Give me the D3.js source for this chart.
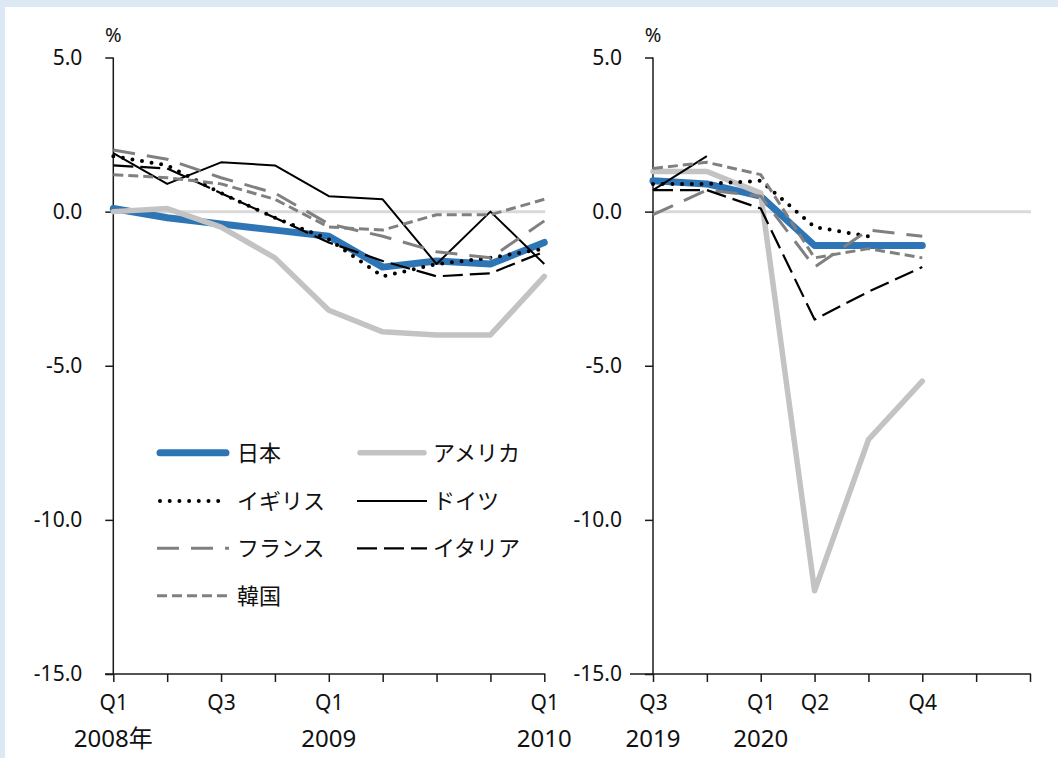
<!DOCTYPE html>
<html><head><meta charset="utf-8">
<script src="https://cdn.jsdelivr.net/npm/d3@7"></script>
<style>
html,body{margin:0;padding:0;background:#dde8f5;}
svg{display:block;}
</style></head>
<body>
<svg id="chart" width="1058" height="758"></svg>
<script>
// ---- data ----
const leftQuarters = ["2008Q1","2008Q2","2008Q3","2008Q4","2009Q1","2009Q2","2009Q3","2009Q4","2010Q1"];
const leftTickLabels = ["Q1","","Q3","","Q1","","","","Q1"];
const leftYearLabels = ["2008年","","","","2009","","","","2010"];
const rightQuarters = ["2019Q3","2019Q4","2020Q1","2020Q2","2020Q3","2020Q4","2021Q1","2021Q2"];
const rightTickLabels = ["Q3","","Q1","Q2","","Q4","",""];
const rightYearLabels = ["2019","","2020","","","","",""];
const yTicks = [5, 0, -5, -10, -15];

const japanL   = [0.1, -0.2, -0.4, -0.6, -0.8, -1.8, -1.6, -1.7, -1.0];
const usaL     = [0.0, 0.1, -0.5, -1.5, -3.2, -3.9, -4.0, -4.0, -2.1];
const ukL      = [1.8, 1.5, 0.6, -0.2, -0.9, -2.1, -1.7, -1.5, -1.2];
const germanyL = [1.9, 0.9, 1.6, 1.5, 0.5, 0.4, -1.7, 0.0, -1.7];
const franceL  = [2.0, 1.7, 1.1, 0.6, -0.4, -0.8, -1.3, -1.5, -0.3];
const italyL   = [1.5, 1.4, 0.6, -0.2, -1.0, -1.6, -2.1, -2.0, -1.3];
const koreaL   = [1.2, 1.1, 0.9, 0.4, -0.5, -0.6, -0.1, -0.1, 0.4];

const japanR   = [1.0, 0.9, 0.5, -1.1, -1.1, -1.1];
const usaR     = [1.3, 1.3, 0.6, -12.3, -7.4, -5.5];
const ukR      = [0.9, 0.9, 1.0, -0.5, -0.8];
const germanyR = [0.7, 1.8];
const franceR  = [-0.1, 0.7, 0.5, -1.8, -0.6, -0.8];
const italyR   = [0.7, 0.7, 0.1, -3.5, -2.6, -1.8];
const koreaR   = [1.4, 1.6, 1.2, -1.5, -1.2, -1.5];

const seriesNames = ["日本","アメリカ","イギリス","ドイツ","フランス","イタリア","韓国"];
const leftData  = [japanL, usaL, ukL, germanyL, franceL, italyL, koreaL];
const rightData = [japanR, usaR, ukR, germanyR, franceR, italyR, koreaR];

// ---- styles ----
const styles = [
  {color:"#2e75b6", width:7,   dash:null,   cap:"round"},
  {color:"#c3c3c3", width:5.5, dash:null,   cap:"round"},
  {color:"#000000", width:4,   dash:"0,9.7",cap:"round"},
  {color:"#000000", width:2,   dash:null,   cap:"butt"},
  {color:"#808080", width:3,   dash:"22,12",cap:"butt"},
  {color:"#000000", width:2.2, dash:"20,7", cap:"butt"},
  {color:"#808080", width:3,   dash:"10,5", cap:"butt"}
];

const svg = d3.select("#chart");
svg.append("rect").attr("x",5).attr("y",7).attr("width",1053).attr("height",751).attr("fill","#ffffff");

const y = d3.scaleLinear().domain([-15,5]).range([674,57.5]);
const numFont = "'Noto Sans','Noto Sans CJK JP',sans-serif";
const axisColor = "#1a1a1a";

function panel(cats, tickLabels, yearLabels, data, x0, x1, xLineStart){
  const x = d3.scalePoint().domain(cats).range([x0, x1]);
  const g = svg.append("g");
  // zero line
  g.append("line").attr("x1",x0).attr("x2",x1+1).attr("y1",y(0)).attr("y2",y(0))
    .attr("stroke","#d9d9d9").attr("stroke-width",3);
  // y axis
  const yAxis = d3.axisLeft(y).tickValues(yTicks).tickSize(8).tickFormat(d=>d.toFixed(1));
  const ya = g.append("g").attr("transform",`translate(${x0},0)`).call(yAxis);
  ya.select(".domain").attr("stroke",axisColor).attr("stroke-width",1.5).attr("d",`M0,${y(5)}V${y(-15)}`);
  ya.selectAll(".tick line").attr("stroke",axisColor).attr("stroke-width",1.5);
  ya.selectAll(".tick text").attr("x",-31).attr("font-size",21).attr("font-family",numFont).attr("fill","#111");
  // percent
  g.append("text").attr("x",x0).attr("y",42).attr("text-anchor","middle")
    .attr("font-size",20).attr("font-family",numFont).attr("fill","#111").text("%");
  // x axis
  const xAxis = d3.axisBottom(x).tickSize(8).tickFormat((d,i)=>tickLabels[i]);
  const xa = g.append("g").attr("transform",`translate(0,${y(-15)})`).call(xAxis);
  xa.select(".domain").attr("stroke",axisColor).attr("stroke-width",1.5).attr("d",`M${xLineStart},0H${x1+1}`);
  xa.selectAll(".tick line").attr("stroke",axisColor).attr("stroke-width",1.5);
  xa.selectAll(".tick text").attr("y",36).attr("dy",0).attr("font-size",21).attr("font-family",numFont).attr("fill","#111");
  // year labels
  g.selectAll(".yr").data(cats.map((c,i)=>({c,l:yearLabels[i]})).filter(d=>d.l))
    .enter().append("text").attr("class","yr")
    .attr("x",d=>x(d.c)).attr("y",747).attr("text-anchor","middle")
    .attr("font-size",24).attr("font-family",numFont).attr("fill","#111").text(d=>d.l);
  // lines
  data.forEach((vals,si)=>{
    const st = styles[si];
    const pts = vals.map((v,i)=>({c:cats[i],v})).filter(d=>d.v!=null);
    const line = d3.line().x(d=>x(d.c)).y(d=>y(d.v));
    g.append("path").datum(pts).attr("d",line).attr("fill","none")
      .attr("stroke",st.color).attr("stroke-width",st.width)
      .attr("stroke-dasharray",st.dash).attr("stroke-linecap",st.cap)
      .attr("stroke-linejoin","round");
  });
}

panel(leftQuarters, leftTickLabels, leftYearLabels, leftData, 113.3, 544.3, 105);
panel(rightQuarters, rightTickLabels, rightYearLabels, rightData, 653, 1030, 630);

// legend
const legPos = [
  {x:157,y:452.7},{x:357,y:452.7},
  {x:157,y:501},{x:357,y:501},
  {x:157,y:548.3},{x:357,y:548.3},
  {x:157,y:595.7}
];
const lg = svg.append("g");
seriesNames.forEach((name,i)=>{
  const p = legPos[i], st = styles[i];
  const len = i%2===0 ? 72 : 70;
  lg.append("line").attr("x1",p.x+(st.cap==="round"?3:0)).attr("x2",p.x+len-(st.cap==="round"?3:0))
    .attr("y1",p.y).attr("y2",p.y)
    .attr("stroke",st.color).attr("stroke-width",st.width)
    .attr("stroke-dasharray",st.dash).attr("stroke-linecap",st.cap);
  lg.append("text").attr("x",p.x+(i%2===0?80:76)).attr("y",p.y).attr("dy","0.36em")
    .attr("font-size",22).attr("font-family","'Noto Sans CJK JP',sans-serif").attr("fill","#111").text(name);
});
</script>
</body></html>
